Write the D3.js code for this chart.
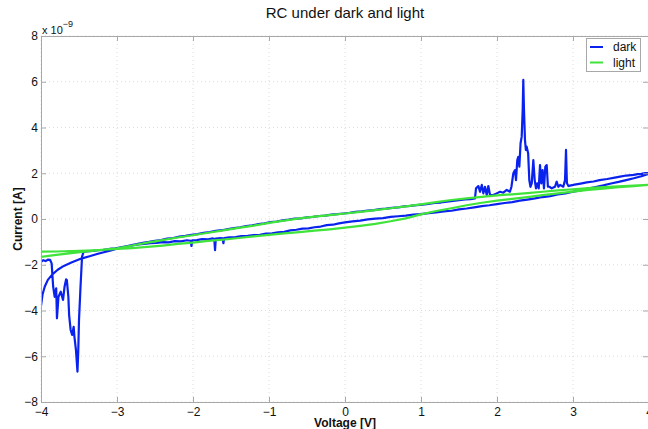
<!DOCTYPE html>
<html><head><meta charset="utf-8">
<script src="https://cdn.jsdelivr.net/npm/d3@7"></script>
<style>
body{margin:0;background:#fff}
svg{display:block}
text{font-family:"Liberation Sans",Arial,Helvetica,sans-serif}
</style>
</head><body>
<svg id="c" width="648" height="429"></svg>
<script>
// ---- data (current in units of 1e-9 A) ----
const title = "RC under dark and light";
const seriesNames = ["dark", "light"];
const xTicks = [-4, -3, -2, -1, 0, 1, 2, 3, 4];
const yTicks = [-8, -6, -4, -2, 0, 2, 4, 6, 8];

// dark: sweep from -4 V up to +4 V
const darkUp = [
[-4.00,-1.87],[-3.97,-1.80],[-3.94,-1.84],[-3.91,-1.78],[-3.88,-1.79],[-3.86,-1.94],[-3.84,-2.96],[-3.82,-3.40],
[-3.80,-3.03],[-3.79,-4.34],[-3.77,-3.40],[-3.74,-3.18],[-3.71,-3.54],[-3.69,-2.96],[-3.67,-2.64],[-3.66,-2.67],
[-3.64,-3.40],[-3.63,-4.20],[-3.61,-4.85],[-3.59,-5.07],[-3.57,-4.71],[-3.56,-5.15],[-3.54,-5.73],[-3.52,-6.67],
[-3.51,-5.80],[-3.50,-4.42],[-3.48,-2.96],[-3.46,-1.65],[-3.44,-1.43],
[-3.40,-1.42],[-3.32,-1.40],[-3.25,-1.36],[-3.18,-1.35],[-3.10,-1.31],[-3.02,-1.28],[-2.95,-1.24],[-2.88,-1.20],
[-2.80,-1.16],[-2.72,-1.11],[-2.64,-1.09],[-2.56,-1.06],[-2.48,-1.05],[-2.40,-1.01],[-2.32,-1.02],[-2.24,-0.97],
[-2.16,-0.98],[-2.08,-0.93],[-2.03,-0.95],[-2.02,-1.18],[-2.01,-0.93],[-1.95,-0.92],[-1.88,-0.88],[-1.80,-0.89],
[-1.74,-0.85],[-1.72,-0.87],[-1.71,-1.36],[-1.70,-0.86],[-1.64,-0.84],[-1.61,-0.85],[-1.60,-1.06],[-1.59,-0.83],
[-1.52,-0.80],[-1.44,-0.79],[-1.36,-0.75],[-1.28,-0.74],[-1.20,-0.70],[-1.12,-0.69],[-1.04,-0.64],[-0.96,-0.63],
[-0.88,-0.58],[-0.80,-0.56],[-0.72,-0.50],[-0.64,-0.47],[-0.56,-0.42],[-0.48,-0.41],[-0.40,-0.36],[-0.32,-0.33],
[-0.24,-0.27],[-0.16,-0.25],[-0.08,-0.19],[0.00,-0.15],[0.10,-0.10],[0.20,-0.07],[0.30,-0.02],[0.40,0.02],
[0.50,0.04],[0.60,0.09],[0.70,0.12],[0.80,0.15],[0.90,0.19],[1.00,0.21],[1.10,0.26],[1.20,0.29],
[1.30,0.33],[1.40,0.36],[1.50,0.42],[1.60,0.46],[1.70,0.51],[1.80,0.56],[1.90,0.60],[2.00,0.65],
[2.10,0.70],[2.20,0.74],[2.30,0.80],[2.40,0.85],[2.50,0.90],[2.60,0.96],[2.70,1.00],[2.80,1.07],
[2.90,1.12],[3.00,1.19],[3.10,1.25],[3.20,1.33],[3.30,1.40],[3.40,1.47],[3.50,1.55],[3.60,1.62],
[3.70,1.70],[3.80,1.78],[3.90,1.87],[3.96,1.94],[4.00,1.98]
];

// dark: sweep back from +4 V down to -4 V
const darkDown = [
[4.00,2.00],[3.95,2.01],[3.90,1.97],[3.85,1.96],[3.80,1.93],[3.70,1.90],[3.62,1.85],[3.55,1.81],
[3.45,1.75],[3.35,1.70],[3.27,1.64],[3.18,1.60],[3.10,1.55],[3.02,1.50],[2.96,1.46],
[2.94,1.44],[2.92,1.56],[2.908,3.02],[2.895,1.70],[2.872,1.41],[2.83,1.49],[2.807,1.41],[2.785,1.63],
[2.763,1.41],[2.72,1.34],[2.69,1.41],[2.67,1.41],[2.654,2.36],[2.636,2.29],[2.618,1.34],[2.60,2.14],
[2.583,1.56],[2.566,2.36],[2.549,1.34],[2.53,1.56],[2.513,1.34],[2.496,1.70],[2.478,2.58],[2.457,1.56],
[2.44,1.41],[2.425,1.70],[2.41,2.87],[2.39,3.16],[2.38,3.02],[2.368,3.45],[2.355,4.77],[2.346,6.08],
[2.338,4.77],[2.325,3.60],[2.31,3.31],[2.294,2.29],[2.28,2.72],[2.267,2.58],[2.25,1.70],[2.237,2.14],
[2.215,2.00],[2.19,1.41],[2.17,1.19],[2.128,1.27],[2.083,1.15],[2.04,1.19],[1.996,1.12],[1.95,1.05],
[1.908,1.05],[1.886,1.44],[1.865,1.05],[1.842,1.41],[1.82,1.12],[1.80,1.49],[1.776,1.19],[1.755,1.44],
[1.724,1.34],[1.71,0.90],
[1.65,0.87],[1.58,0.86],[1.50,0.82],[1.42,0.79],[1.34,0.76],[1.26,0.72],[1.18,0.70],[1.10,0.66],
[1.02,0.63],[0.94,0.61],[0.86,0.57],[0.78,0.55],[0.70,0.51],[0.62,0.49],[0.54,0.45],[0.46,0.43],
[0.38,0.39],[0.30,0.37],[0.22,0.33],[0.14,0.31],[0.06,0.27],[-0.02,0.24],[-0.10,0.21],[-0.18,0.19],
[-0.26,0.15],[-0.34,0.13],[-0.42,0.09],[-0.50,0.07],[-0.58,0.03],[-0.66,0.02],[-0.74,-0.03],[-0.82,-0.06],
[-0.90,-0.11],[-0.98,-0.14],[-1.06,-0.19],[-1.14,-0.22],[-1.22,-0.28],[-1.30,-0.31],[-1.38,-0.36],[-1.46,-0.40],
[-1.54,-0.44],[-1.62,-0.49],[-1.70,-0.52],[-1.78,-0.57],[-1.86,-0.60],[-1.94,-0.66],[-2.02,-0.69],[-2.10,-0.74],
[-2.18,-0.77],[-2.26,-0.83],[-2.34,-0.86],[-2.42,-0.92],[-2.50,-0.95],[-2.58,-1.00],[-2.66,-1.04],[-2.74,-1.10],
[-2.82,-1.15],[-2.90,-1.22],[-3.00,-1.30],[-3.08,-1.37],[-3.16,-1.44],[-3.25,-1.52],[-3.35,-1.62],[-3.47,-1.73],
[-3.60,-1.90],[-3.70,-2.05],[-3.78,-2.22],[-3.85,-2.42],[-3.91,-2.66],[-3.95,-2.95],[-3.98,-3.30],[-4.00,-3.80]
];

// light: sweep up
const lightUp = [
[-4.00,-1.66],[-3.80,-1.57],[-3.60,-1.49],[-3.40,-1.42],[-3.20,-1.35],[-3.00,-1.28],[-2.80,-1.16],[-2.60,-1.03],
[-2.40,-0.92],[-2.20,-0.81],[-2.00,-0.71],[-1.80,-0.60],[-1.60,-0.50],[-1.40,-0.39],[-1.20,-0.29],[-1.00,-0.17],
[-0.80,-0.07],[-0.60,0.03],[-0.40,0.10],[-0.20,0.17],[0.00,0.24],[0.20,0.31],[0.40,0.39],[0.60,0.47],
[0.80,0.55],[1.00,0.64],[1.20,0.74],[1.40,0.83],[1.60,0.90],[1.80,0.97],[2.00,1.03],[2.20,1.08],
[2.40,1.13],[2.60,1.19],[2.80,1.25],[3.00,1.30],[3.20,1.35],[3.40,1.39],[3.60,1.43],[3.80,1.46],[4.00,1.49]
];

// light: sweep down
const lightDown = [
[4.00,1.49],[3.80,1.44],[3.60,1.39],[3.40,1.33],[3.20,1.27],[3.00,1.20],[2.80,1.12],[2.60,1.04],
[2.40,0.96],[2.20,0.88],[2.00,0.80],[1.80,0.71],[1.60,0.60],[1.40,0.47],[1.20,0.35],[1.00,0.20],
[0.80,0.03],[0.60,-0.10],[0.40,-0.21],[0.20,-0.30],[0.00,-0.38],[-0.20,-0.45],[-0.40,-0.51],[-0.60,-0.57],
[-0.80,-0.63],[-1.00,-0.69],[-1.20,-0.76],[-1.40,-0.83],[-1.60,-0.90],[-1.80,-0.96],[-2.00,-1.03],[-2.20,-1.09],
[-2.40,-1.16],[-2.60,-1.22],[-2.80,-1.27],[-3.00,-1.31],[-3.20,-1.35],[-3.40,-1.38],[-3.60,-1.40],[-3.80,-1.42],[-4.00,-1.43]
];

// ---- layout ----
const W = 648, H = 429;
const L = 41, T = 36, R = 649, B = 402;
const colors = {dark: "#0a22ee", light: "#3fe33a"};
const axisColor = "#a8a8a8";
const gridColor = "#dcdcdc";

const svg = d3.select("#c");
svg.append("rect").attr("width", W).attr("height", H).attr("fill", "#fff");

const x = d3.scaleLinear().domain([-4, 4]).range([L, R]);
const y = d3.scaleLinear().domain([-8, 8]).range([B, T]);

// grid
const grid = svg.append("g");
grid.selectAll("line.gx").data(xTicks).join("line")
  .attr("x1", d => x(d)).attr("x2", d => x(d)).attr("y1", T).attr("y2", B)
  .attr("stroke", gridColor).attr("stroke-width", 1).attr("stroke-dasharray", "1,3");
grid.selectAll("line.gy").data(yTicks).join("line")
  .attr("x1", L).attr("x2", R).attr("y1", d => y(d)).attr("y2", d => y(d))
  .attr("stroke", gridColor).attr("stroke-width", 1).attr("stroke-dasharray", "1,3");

// clip
svg.append("clipPath").attr("id", "clip").append("rect")
  .attr("x", L).attr("y", T).attr("width", R - L).attr("height", B - T);

const line = d3.line().x(d => x(d[0])).y(d => y(d[1]));
const plot = svg.append("g").attr("clip-path", "url(#clip)");
plot.append("path").datum(darkUp.concat(darkDown)).attr("d", line)
  .attr("fill", "none").attr("stroke", colors.dark).attr("stroke-width", 2.2).attr("stroke-linejoin", "round");
plot.append("path").datum(lightUp.concat(lightDown)).attr("d", line)
  .attr("fill", "none").attr("stroke", colors.light).attr("stroke-width", 2.2).attr("stroke-linejoin", "round");

// axes
const fmt = d3.format("d");
function styleAxis(g) {
  g.select(".domain").attr("stroke", axisColor);
  g.selectAll(".tick line").attr("stroke", axisColor);
  g.selectAll(".tick text").attr("fill", "#111").style("font-size", "12px")
   .style("font-family", '"Liberation Sans",Arial,Helvetica,sans-serif');
}
svg.append("g").attr("transform", `translate(0,${B})`)
  .call(d3.axisBottom(x).tickValues(xTicks).tickFormat(fmt).tickSizeInner(-5).tickSizeOuter(0).tickPadding(5))
  .call(styleAxis);
svg.append("g").attr("transform", `translate(0,${T})`)
  .call(d3.axisTop(x).tickValues(xTicks).tickFormat("").tickSizeInner(-5).tickSizeOuter(0))
  .call(styleAxis);
svg.append("g").attr("transform", `translate(${L},0)`)
  .call(d3.axisLeft(y).tickValues(yTicks).tickFormat(fmt).tickSizeInner(-5).tickSizeOuter(0).tickPadding(3))
  .call(styleAxis);
svg.append("g").attr("transform", `translate(${R - 1},0)`)
  .call(d3.axisRight(y).tickValues(yTicks).tickFormat("").tickSizeInner(-5).tickSizeOuter(0))
  .call(styleAxis);

// exponent label
const ex = svg.append("text").attr("x", 42).attr("y", 34).attr("fill", "#111").style("font-size", "11px");
ex.append("tspan").text("x 10");
ex.append("tspan").attr("dy", -7).style("font-size", "9px").text("\u22129");

// title & axis labels
svg.append("text").attr("x", 345).attr("y", 18).attr("text-anchor", "middle")
  .attr("fill", "#111").style("font-size", "15px").text(title);
svg.append("text").attr("x", 345).attr("y", 427).attr("text-anchor", "middle")
  .attr("fill", "#111").style("font-size", "12px").style("font-weight", "bold").text("Voltage [V]");
svg.append("text").attr("transform", "translate(22,219) rotate(-90)").attr("text-anchor", "middle")
  .attr("fill", "#111").style("font-size", "12px").style("font-weight", "bold").text("Current [A]");

// legend
const lg = svg.append("g");
lg.append("rect").attr("x", 586.5).attr("y", 38.5).attr("width", 54).attr("height", 33)
  .attr("fill", "#fff").attr("stroke", axisColor);
seriesNames.forEach((name, i) => {
  const yy = 47 + i * 15.5;
  lg.append("line").attr("x1", 590).attr("x2", 603).attr("y1", yy).attr("y2", yy)
    .attr("stroke", colors[name]).attr("stroke-width", 2);
  lg.append("text").attr("x", 613).attr("y", yy + 4).attr("fill", "#111")
    .style("font-size", "12px").text(name);
});
</script>
</body></html>
